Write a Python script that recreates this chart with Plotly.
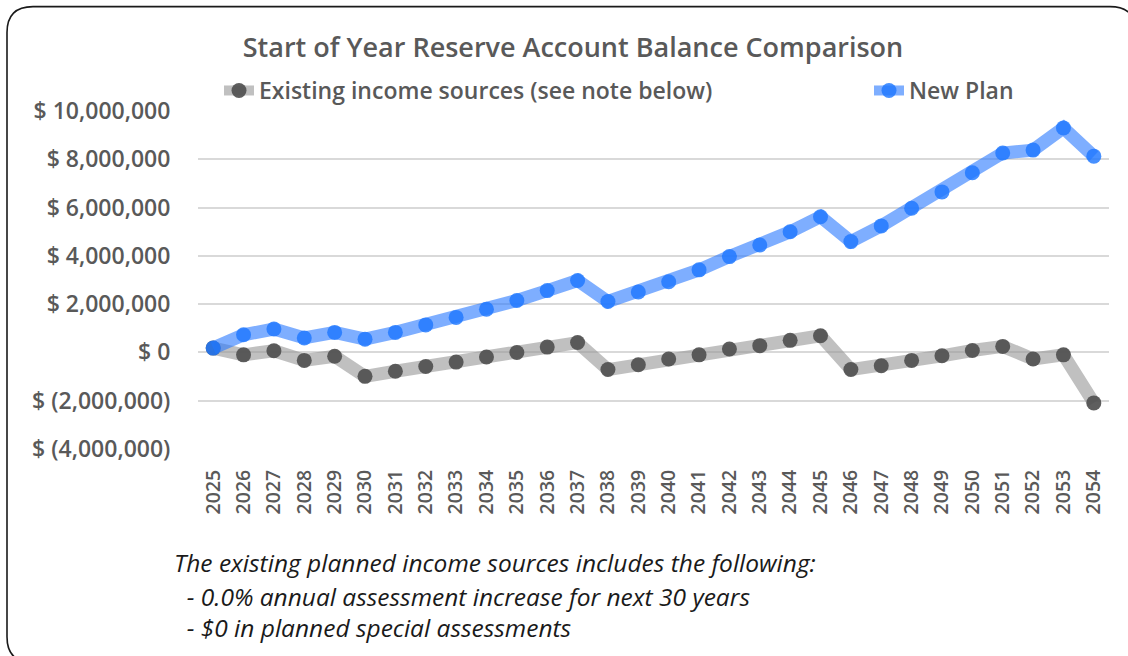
import plotly.graph_objects as go

# Start-of-year reserve balances, 2025-2054
years = [str(y) for y in range(2025, 2055)]
existing_income = [
    180000, -100000, 70000, -330000, -160000, -990000, -780000, -580000,
    -400000, -190000, 0, 220000, 410000, -710000, -510000, -270000,
    -100000, 140000, 280000, 500000, 690000, -710000, -550000, -330000,
    -140000, 80000, 250000, -270000, -100000, -2090000,
]
new_plan = [
    180000, 730000, 970000, 600000, 830000, 550000, 830000, 1140000,
    1450000, 1790000, 2150000, 2560000, 2980000, 2110000, 2500000, 2930000,
    3420000, 3970000, 4450000, 5000000, 5620000, 4590000, 5240000, 5970000,
    6650000, 7440000, 8260000, 8380000, 9300000, 8130000,
]
y_tick_values = [10000000, 8000000, 6000000, 4000000, 2000000, 0, -2000000, -4000000]
y_tick_labels = ["$ 10,000,000", "$ 8,000,000", "$ 6,000,000", "$ 4,000,000",
                 "$ 2,000,000", "$ 0", "$ (2,000,000)", "$ (4,000,000)"]
series_names = ["Existing income sources (see note below)", "New Plan"]
note_lines = [
    "The existing planned income sources includes the following:",
    "&nbsp;&nbsp;- 0.0% annual assessment increase for next 30 years",
    "&nbsp;&nbsp;- $0 in planned special assessments",
]

W, H = 1128, 656
L, R, T, B = 198, 1109, 110.5, 449
TEXT = "#595959"
FONT = "Open Sans"


def px(x):
    return (x - L) / (R - L)


def py(y):
    return (B - y) / (B - T)


fig = go.Figure()
fig.add_trace(go.Scatter(
    x=years, y=existing_income, name=series_names[0], mode="lines+markers",
    line=dict(color="rgba(150,150,150,0.6)", width=13),
    marker=dict(color="rgba(80,80,80,0.92)", size=15),
    legend="legend",
))
fig.add_trace(go.Scatter(
    x=years, y=new_plan, name=series_names[1], mode="lines+markers",
    line=dict(color="rgba(40,120,255,0.6)", width=13),
    marker=dict(color="rgba(30,120,255,0.82)", size=15),
    legend="legend2",
))

# Rounded outer frame around the whole chart
x0, x1, y0, y1, r = px(7), px(1136), py(6), py(663), 26
rx, ry = r / (R - L), r / (B - T)
frame = (
    f"M {x0},{y0 - ry} L {x0},{y1 + ry} Q {x0},{y1} {x0 + rx},{y1} "
    f"L {x1 - rx},{y1} Q {x1},{y1} {x1},{y1 + ry} L {x1},{y0 - ry} "
    f"Q {x1},{y0} {x1 - rx},{y0} L {x0 + rx},{y0} Q {x0},{y0} {x0},{y0 - ry} Z"
)
shapes = [dict(type="path", xref="paper", yref="paper", path=frame,
               line=dict(color="#1a1a1a", width=1.6), layer="above")]

note_pos = [(172, 563), (172, 597), (172, 628)]
annotations = [
    dict(text=t, xref="paper", yref="paper", x=px(x), y=py(y),
         xanchor="left", yanchor="middle", showarrow=False,
         font=dict(family=FONT, size=24.5, color="#1a1a1a", style="italic"))
    for t, (x, y) in zip(note_lines, note_pos)
]

legend_font = dict(family=FONT, size=23, color=TEXT, weight=600)

fig.update_layout(
    width=W, height=H,
    margin=dict(l=L, r=W - R, t=T, b=H - B, pad=0),
    paper_bgcolor="white", plot_bgcolor="white",
    title=dict(text="Start of Year Reserve Account Balance Comparison",
               x=573 / W, xanchor="center", y=1 - 48 / H, yanchor="middle",
               font=dict(family=FONT, size=27, color=TEXT, weight=600)),
    legend=dict(orientation="h", x=px(219), y=py(90), xanchor="left",
                yanchor="middle", font=legend_font,
                bgcolor="rgba(0,0,0,0)", itemclick=False),
    legend2=dict(orientation="h", x=px(869), y=py(90), xanchor="left",
                 yanchor="middle", font=legend_font,
                 bgcolor="rgba(0,0,0,0)", itemclick=False),
    xaxis=dict(type="category", range=[-0.5, len(years) - 0.5],
               showgrid=False, showline=False, zeroline=False,
               ticks="outside", ticklen=12, tickcolor="rgba(0,0,0,0)",
               tickangle=-90,
               tickfont=dict(family=FONT, size=19.5, color=TEXT, weight=600)),
    yaxis=dict(range=[-4000000, 10000000], tickvals=y_tick_values,
               ticktext=y_tick_labels, showgrid=True, gridcolor="#d9d9d9",
               gridwidth=1.5, zeroline=False, showline=False,
               ticks="outside", ticklen=22, tickcolor="rgba(0,0,0,0)",
               tickfont=dict(family=FONT, size=23, color=TEXT, weight=600)),
    shapes=shapes, annotations=annotations,
    showlegend=True,
)

fig.write_html("out.html")
